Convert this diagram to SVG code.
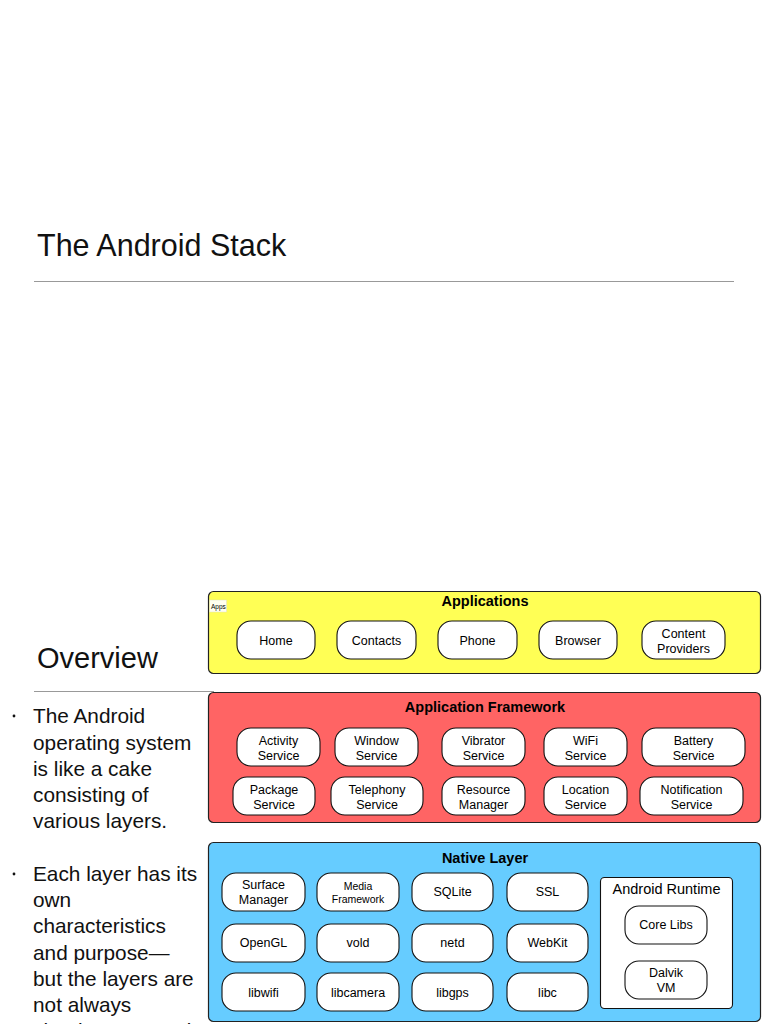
<svg xmlns="http://www.w3.org/2000/svg" width="768" height="1024" viewBox="0 0 768 1024">
<style>
.slide{font-family:"Liberation Sans",Arial,Helvetica,sans-serif;fill:#111}
.h1{font-size:30.5px}
.h2{font-size:29px}
.body{font-size:20.8px}
.layer{stroke:#222;stroke-width:1.2}
.ttl{font-family:"Liberation Sans",Arial,sans-serif;font-size:14.5px;font-weight:bold;fill:#000;text-anchor:middle}
.pill{fill:#fff;stroke:#111;stroke-width:1.1}
.pt{font-family:"Liberation Sans",Arial,sans-serif;font-size:12.5px;fill:#000;text-anchor:middle}
.sm{font-size:10.5px}
.rule{stroke:#999;stroke-width:1}
</style>
<rect width="768" height="1024" fill="#fff"/>
<g id="title">
<text class="slide h1" x="37" y="256">The Android Stack</text>
<line class="rule" x1="34" y1="281.5" x2="734" y2="281.5"/>
</g>
<g id="overview">
<text class="slide h2" x="37" y="668">Overview</text>
<line class="rule" x1="34" y1="691.5" x2="214" y2="691.5"/>
<circle cx="14" cy="716" r="1.4" fill="#111"/>
<text class="slide body" x="33" y="723">The Android</text>
<text class="slide body" x="33" y="749.5">operating system</text>
<text class="slide body" x="33" y="776">is like a cake</text>
<text class="slide body" x="33" y="802">consisting of</text>
<text class="slide body" x="33" y="828">various layers.</text>
<circle cx="14" cy="874" r="1.4" fill="#111"/>
<text class="slide body" x="33" y="881">Each layer has its</text>
<text class="slide body" x="33" y="907">own</text>
<text class="slide body" x="33" y="933">characteristics</text>
<text class="slide body" x="33" y="959.5">and purpose—</text>
<text class="slide body" x="33" y="986">but the layers are</text>
<text class="slide body" x="33" y="1012">not always</text>
<text class="slide body" x="33" y="1038">clearly separated.</text>
</g>

<g id="applications">
<rect class="layer" x="208.5" y="591.5" width="552" height="82" rx="5" fill="#ffff55"/>
<text class="ttl" x="485" y="606">Applications</text>
<rect x="209.5" y="600" width="17" height="12" fill="#fffff0" stroke="#e0e0c0" stroke-width="0.5"/>
<text x="211" y="609" font-family="Liberation Sans,Arial,sans-serif" font-size="6.5" fill="#000">Apps</text>
</g>
<g id="home"><rect class="pill" x="237" y="621" width="78" height="38" rx="14"/><text class="pt" x="276" y="645">Home</text></g>
<g id="contacts"><rect class="pill" x="337" y="621" width="79" height="38" rx="14"/><text class="pt" x="376.5" y="645">Contacts</text></g>
<g id="phone"><rect class="pill" x="438" y="621" width="79" height="38" rx="14"/><text class="pt" x="477.5" y="645">Phone</text></g>
<g id="browser"><rect class="pill" x="539" y="621" width="78" height="38" rx="14"/><text class="pt" x="578" y="645">Browser</text></g>
<g id="content-providers"><rect class="pill" x="642" y="621" width="83" height="38" rx="14"/><text class="pt" x="683.5" y="637.5">Content</text><text class="pt" x="683.5" y="652.5">Providers</text></g>

<g id="application-framework">
<rect class="layer" x="208.5" y="692.5" width="552" height="130" rx="5" fill="#ff6464"/>
<text class="ttl" x="485" y="712">Application Framework</text>
</g>
<g id="activity-service"><rect class="pill" x="237" y="728" width="83" height="38" rx="14"/><text class="pt" x="278.5" y="745">Activity</text><text class="pt" x="278.5" y="760">Service</text></g>
<g id="window-service"><rect class="pill" x="335" y="728" width="83" height="38" rx="14"/><text class="pt" x="376.5" y="745">Window</text><text class="pt" x="376.5" y="760">Service</text></g>
<g id="vibrator-service"><rect class="pill" x="442" y="728" width="83" height="38" rx="14"/><text class="pt" x="483.5" y="745">Vibrator</text><text class="pt" x="483.5" y="760">Service</text></g>
<g id="wifi-service"><rect class="pill" x="544" y="728" width="83" height="38" rx="14"/><text class="pt" x="585.5" y="745">WiFi</text><text class="pt" x="585.5" y="760">Service</text></g>
<g id="battery-service"><rect class="pill" x="642" y="728" width="103" height="38" rx="14"/><text class="pt" x="693.5" y="745">Battery</text><text class="pt" x="693.5" y="760">Service</text></g>
<g id="package-service"><rect class="pill" x="233" y="777" width="82" height="38" rx="14"/><text class="pt" x="274" y="794">Package</text><text class="pt" x="274" y="809">Service</text></g>
<g id="telephony-service"><rect class="pill" x="331" y="777" width="92" height="38" rx="14"/><text class="pt" x="377" y="794">Telephony</text><text class="pt" x="377" y="809">Service</text></g>
<g id="resource-manager"><rect class="pill" x="442" y="777" width="83" height="38" rx="14"/><text class="pt" x="483.5" y="794">Resource</text><text class="pt" x="483.5" y="809">Manager</text></g>
<g id="location-service"><rect class="pill" x="544" y="777" width="83" height="38" rx="14"/><text class="pt" x="585.5" y="794">Location</text><text class="pt" x="585.5" y="809">Service</text></g>
<g id="notification-service"><rect class="pill" x="640" y="777" width="103" height="38" rx="14"/><text class="pt" x="691.5" y="794">Notification</text><text class="pt" x="691.5" y="809">Service</text></g>

<g id="native-layer">
<rect class="layer" x="208.5" y="842.5" width="552" height="179" rx="5" fill="#66ccff"/>
<text class="ttl" x="485" y="863">Native Layer</text>
</g>
<g id="surface-manager"><rect class="pill" x="222" y="873" width="83" height="38" rx="14"/><text class="pt" x="263.5" y="889">Surface</text><text class="pt" x="263.5" y="904">Manager</text></g>
<g id="media-framework"><rect class="pill" x="317" y="873" width="82" height="38" rx="14"/><text class="pt sm" x="358" y="890">Media</text><text class="pt sm" x="358" y="903">Framework</text></g>
<g id="sqlite"><rect class="pill" x="412" y="873" width="81" height="38" rx="14"/><text class="pt" x="452.5" y="896">SQLite</text></g>
<g id="ssl"><rect class="pill" x="507" y="873" width="81" height="38" rx="14"/><text class="pt" x="547.5" y="896">SSL</text></g>
<g id="opengl"><rect class="pill" x="222" y="924" width="83" height="38" rx="14"/><text class="pt" x="263.5" y="947">OpenGL</text></g>
<g id="vold"><rect class="pill" x="317" y="924" width="82" height="38" rx="14"/><text class="pt" x="358" y="947">vold</text></g>
<g id="netd"><rect class="pill" x="412" y="924" width="81" height="38" rx="14"/><text class="pt" x="452.5" y="947">netd</text></g>
<g id="webkit"><rect class="pill" x="507" y="924" width="81" height="38" rx="14"/><text class="pt" x="547.5" y="947">WebKit</text></g>
<g id="libwifi"><rect class="pill" x="222" y="973" width="83" height="38" rx="14"/><text class="pt" x="263.5" y="997">libwifi</text></g>
<g id="libcamera"><rect class="pill" x="317" y="973" width="82" height="38" rx="14"/><text class="pt" x="358" y="997">libcamera</text></g>
<g id="libgps"><rect class="pill" x="412" y="973" width="81" height="38" rx="14"/><text class="pt" x="452.5" y="997">libgps</text></g>
<g id="libc"><rect class="pill" x="507" y="973" width="81" height="38" rx="14"/><text class="pt" x="547.5" y="997">libc</text></g>
<g id="android-runtime">
<rect x="600.5" y="877.5" width="132" height="131" rx="4" fill="#fff" stroke="#111" stroke-width="1.1"/>
<text x="666.5" y="894" font-family="Liberation Sans,Arial,sans-serif" font-size="14.5" text-anchor="middle" fill="#000">Android Runtime</text>
</g>
<g id="core-libs"><rect class="pill" x="625" y="906" width="82" height="38" rx="14"/><text class="pt" x="666" y="929">Core Libs</text></g>
<g id="dalvik-vm"><rect class="pill" x="625" y="961" width="82" height="38" rx="14"/><text class="pt" x="666" y="976.5">Dalvik</text><text class="pt" x="666" y="991.5">VM</text></g>
<g id="connectors"></g>
</svg>
